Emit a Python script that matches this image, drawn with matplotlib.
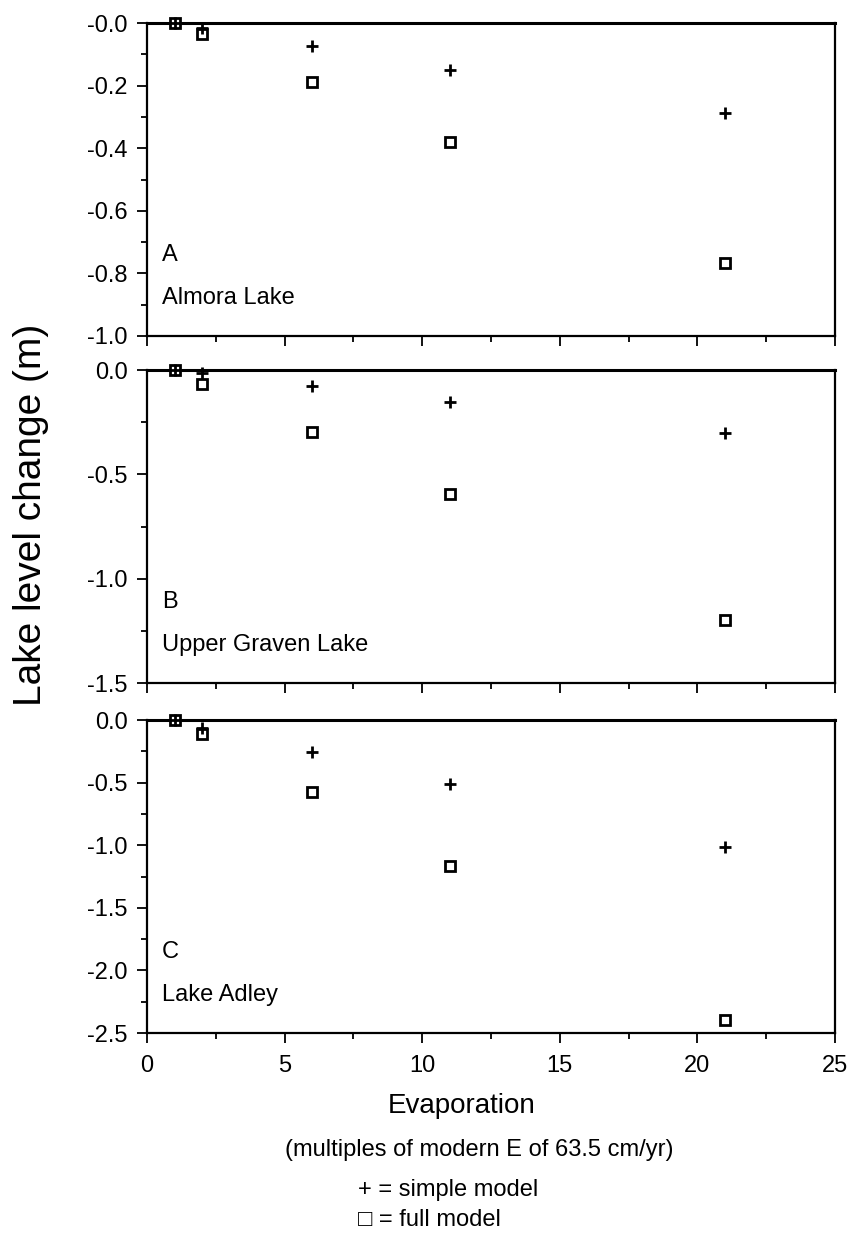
import matplotlib.pyplot as plt
from matplotlib.ticker import MultipleLocator, FixedLocator

plt.rcParams['font.family'] = ['Liberation Sans', 'DejaVu Sans']

evap = [1, 2, 6, 11, 21]

almora_simple = [0.0, -0.015, -0.072, -0.15, -0.288]
almora_full = [0.0, -0.035, -0.19, -0.38, -0.768]

graven_simple = [0.0, -0.015, -0.076, -0.154, -0.30]
graven_full = [0.0, -0.065, -0.298, -0.594, -1.20]

adley_simple = [0.0, -0.06, -0.257, -0.51, -1.013]
adley_full = [0.0, -0.114, -0.578, -1.167, -2.40]

panel_letters = ['A', 'B', 'C']
panel_names = ['Almora Lake', 'Upper Graven Lake', 'Lake Adley']

yticks_a = [0.0, -0.2, -0.4, -0.6, -0.8, -1.0]
ylabels_a = ['-0.0', '-0.2', '-0.4', '-0.6', '-0.8', '-1.0']
yticks_b = [0.0, -0.5, -1.0, -1.5]
ylabels_b = ['0.0', '-0.5', '-1.0', '-1.5']
yticks_c = [0.0, -0.5, -1.0, -1.5, -2.0, -2.5]
ylabels_c = ['0.0', '-0.5', '-1.0', '-1.5', '-2.0', '-2.5']

xticks = [0, 5, 10, 15, 20, 25]
xlabels = ['0', '5', '10', '15', '20', '25']

fig = plt.figure(figsize=(8.47, 12.34), dpi=100)

left = 147 / 847
width = 688 / 847
height = 313 / 1234
bottoms = [1 - 336 / 1234, 1 - 683 / 1234, 1 - 1033 / 1234]

panels = [
    (almora_simple, almora_full, yticks_a, ylabels_a, 0.1, -1.0),
    (graven_simple, graven_full, yticks_b, ylabels_b, 0.25, -1.5),
    (adley_simple, adley_full, yticks_c, ylabels_c, 0.25, -2.5),
]

for i, (simple, full, yt, yl, minor, ymin) in enumerate(panels):
    ax = fig.add_axes([left, bottoms[i], width, height])
    ax.plot(evap, full, linestyle='none', marker='s', markersize=6.5,
            markerfacecolor='white', markeredgecolor='black',
            markeredgewidth=2, clip_on=False, zorder=3)
    ax.plot(evap, simple, linestyle='none', marker='+', markersize=8,
            color='black', markeredgewidth=2, clip_on=False, zorder=4)

    ax.set_xlim(0, 25)
    ax.set_ylim(ymin, 0)
    ax.yaxis.set_major_locator(FixedLocator(yt))
    ax.set_yticklabels(yl)
    ax.yaxis.set_minor_locator(MultipleLocator(minor))
    ax.xaxis.set_major_locator(FixedLocator(xticks))
    ax.xaxis.set_minor_locator(MultipleLocator(2.5))
    if i == 2:
        ax.set_xticklabels(xlabels)
    else:
        ax.set_xticklabels([])

    ax.tick_params(axis='both', which='major', direction='out', length=7,
                   width=1.3, labelsize=17, pad=7)
    ax.tick_params(axis='both', which='minor', direction='out', length=4,
                   width=1.3)
    ax.tick_params(axis='x', which='major', pad=9)
    for side in ['left', 'right', 'bottom']:
        ax.spines[side].set_linewidth(1.6)
    ax.spines['top'].set_linewidth(2.2)

    ax.text(0.022, 0.26, panel_letters[i], transform=ax.transAxes,
            fontsize=17, ha='left', va='center')
    ax.text(0.022, 0.12, panel_names[i], transform=ax.transAxes,
            fontsize=17, ha='left', va='center')

fig.text(31 / 847, 1 - 515 / 1234, 'Lake level change (m)', rotation=90,
         fontsize=28, ha='center', va='center')
fig.text(462 / 847, 1 - 1106 / 1234, 'Evaporation', fontsize=20,
         ha='center', va='center')
fig.text(479 / 847, 1 - 1150 / 1234, '(multiples of modern E of 63.5 cm/yr)',
         fontsize=17, ha='center', va='center')
fig.text(358 / 847, 1 - 1190 / 1234, '+ = simple model', fontsize=17,
         ha='left', va='center')
fig.text(358 / 847, 1 - 1220 / 1234, '\u25a1 = full model', fontsize=17,
         ha='left', va='center')

fig.savefig('out.png', dpi=100)
